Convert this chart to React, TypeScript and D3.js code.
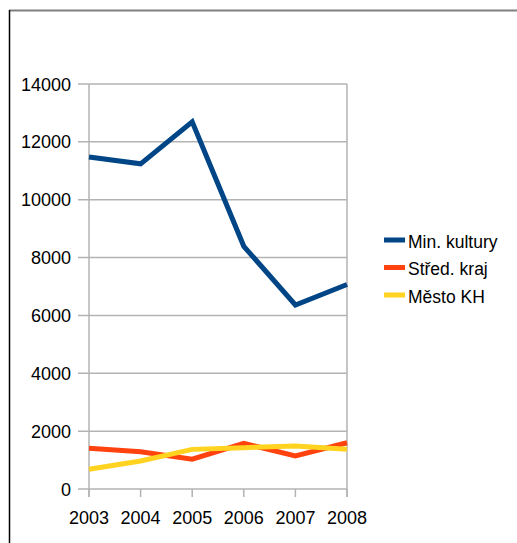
import React from "react";
import * as d3 from "d3";

const years = ["2003", "2004", "2005", "2006", "2007", "2008"];
const minKultury = [11480, 11240, 12690, 8390, 6360, 7070];
const stredKraj = [1410, 1290, 1030, 1580, 1140, 1600];
const mestoKH = [680, 970, 1370, 1430, 1490, 1370];
const yTicks = [0, 2000, 4000, 6000, 8000, 10000, 12000, 14000];
const seriesNames = ["Min. kultury", "Střed. kraj", "Město KH"];
const seriesColors = ["#004586", "#ff420e", "#ffd320"];

export default function App() {
  const W = 517, H = 543;
  const x = d3.scalePoint<string>().domain(years).range([89, 347]);
  const y = d3.scaleLinear().domain([0, 14000]).range([489, 84]);
  const line = d3
    .line<number>()
    .x((_, i) => x(years[i]) as number)
    .y((d) => y(d));
  const allSeries = [minKultury, stredKraj, mestoKH];
  const font = "'Liberation Sans', Arial, sans-serif";
  return (
    <svg
      width={W}
      height={H}
      style={{ position: "absolute", left: 0, top: 0, background: "#fff" }}
    >
      <rect x={0} y={0} width={W} height={H} fill="#fff" />
      {/* frame */}
      <line x1={9} x2={W} y1={10.5} y2={10.5} stroke="#808080" strokeWidth={2} />
      <line x1={9.5} x2={9.5} y1={10} y2={H} stroke="#000" strokeWidth={1.5} />
      {/* grid */}
      {yTicks.map((t) => (
        <line key={t} x1={78} x2={347} y1={y(t)} y2={y(t)} stroke="#b3b3b3" strokeWidth={1.5} />
      ))}
      <line x1={89} x2={89} y1={84} y2={497} stroke="#b3b3b3" strokeWidth={1.5} />
      <line x1={347} x2={347} y1={84} y2={497} stroke="#b3b3b3" strokeWidth={1.5} />
      {years.map((yr) => (
        <line key={yr} x1={x(yr)} x2={x(yr)} y1={489} y2={497} stroke="#b3b3b3" strokeWidth={1.5} />
      ))}
      {/* y labels */}
      {yTicks.map((t) => (
        <text key={t} x={71} y={y(t) + 6.5} textAnchor="end" fontFamily={font} fontSize={18} fill="#000">
          {t}
        </text>
      ))}
      {/* x labels */}
      {years.map((yr) => (
        <text key={yr} x={x(yr)} y={524} textAnchor="middle" fontFamily={font} fontSize={18} fill="#000">
          {yr}
        </text>
      ))}
      {/* series */}
      {allSeries.map((s, i) => (
        <path key={i} d={line(s) || ""} fill="none" stroke={seriesColors[i]} strokeWidth={5} strokeLinejoin="miter" />
      ))}
      {/* legend */}
      {seriesNames.map((n, i) => (
        <g key={n} transform={`translate(0, ${240 + i * 27.5})`}>
          <line x1={384} x2={405} y1={0} y2={0} stroke={seriesColors[i]} strokeWidth={5} />
          <text x={408} y={7.5} fontFamily={font} fontSize={17.5} fill="#000">
            {n}
          </text>
        </g>
      ))}
    </svg>
  );
}
